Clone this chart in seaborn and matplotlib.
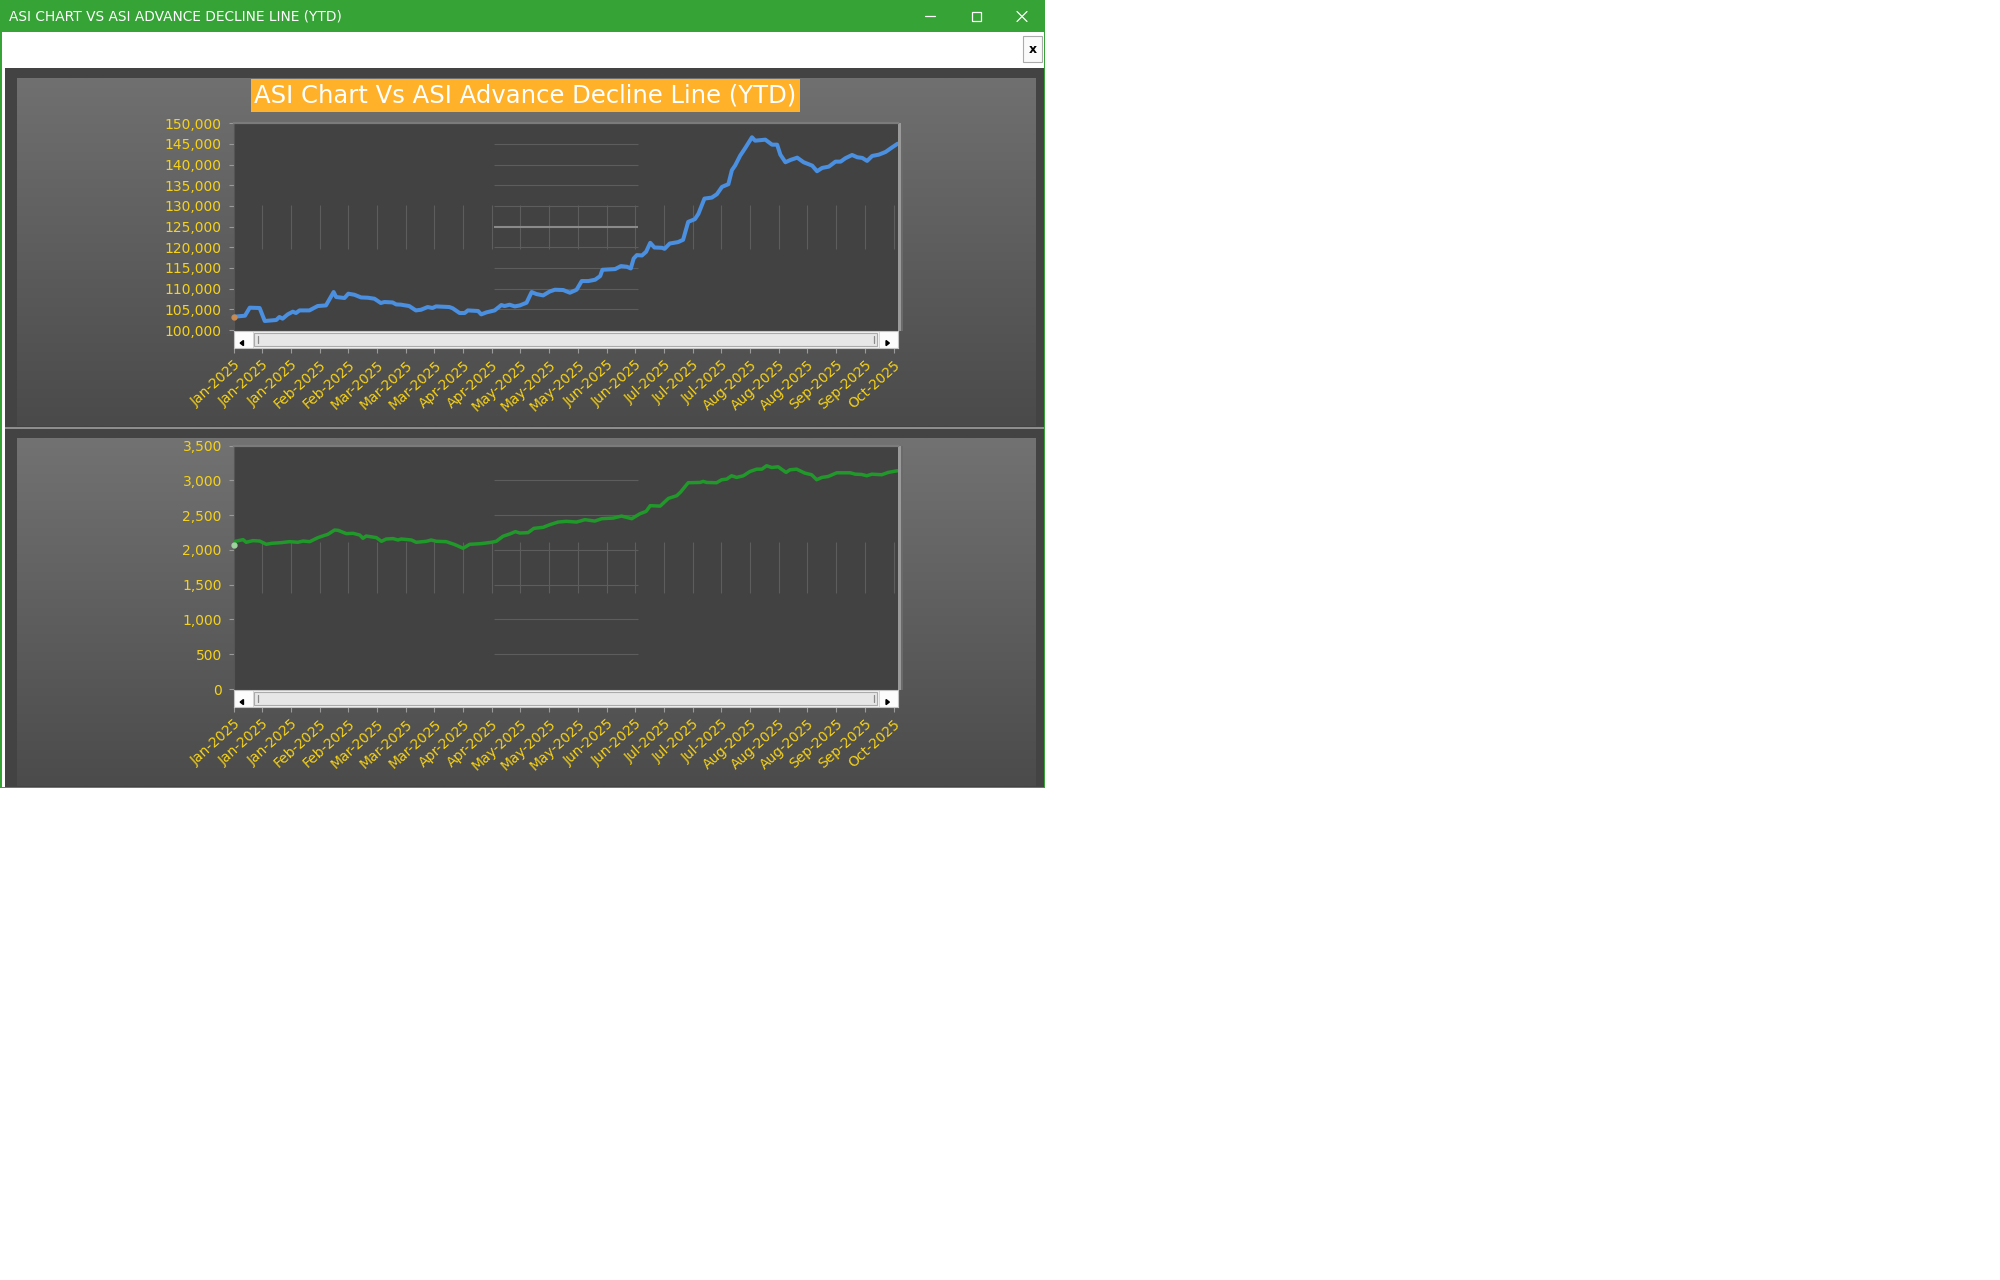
import numpy as np
import pandas as pd
import matplotlib
matplotlib.use("Agg")
import matplotlib.pyplot as plt
import seaborn as sns
from matplotlib.patches import Rectangle, Polygon
from matplotlib.colors import to_rgb

# ---------------- data ----------------
WINDOW_TITLE = "ASI CHART VS ASI ADVANCE DECLINE LINE (YTD)"
CHART_TITLE = "ASI Chart Vs ASI Advance Decline Line (YTD)"

X_TICK_LABELS = ["Jan-2025", "Jan-2025", "Jan-2025", "Feb-2025", "Feb-2025",
                 "Mar-2025", "Mar-2025", "Mar-2025", "Apr-2025", "Apr-2025",
                 "May-2025", "May-2025", "May-2025", "Jun-2025", "Jun-2025",
                 "Jul-2025", "Jul-2025", "Jul-2025", "Aug-2025", "Aug-2025",
                 "Aug-2025", "Sep-2025", "Sep-2025", "Oct-2025"]
SESSIONS_PER_TICK = 9
LAST_SESSION = 208.4

ASI_SESSION = [0, 3.6, 5.1, 8.2, 9.8, 13.4, 14.4, 15.4, 17.0, 18.6, 19.6, 20.7, 23.8,
               26.4, 29.0, 31.4, 32.2, 34.8, 36.0, 37.9, 40.0, 42.1, 44.2, 46.2, 47.3,
               49.9, 51.0, 52.5, 55.1, 57.2, 58.8, 60.9, 62.4, 63.5, 67.7, 68.8, 70.9,
               72.5, 73.5, 76.7, 77.7, 79.3, 81.9, 84.0, 85.0, 86.6, 88.2, 89.8, 91.9,
               93.5, 95.0, 97.1, 99.2, 100.8, 103.4, 105.5, 107.6, 109.2, 111.3, 113.4,
               115.0, 115.7, 119.7, 121.5, 123.4, 124.6, 125.5, 126.5, 128.1, 129.4,
               130.7, 132.0, 134.4, 135.2, 136.8, 139.4, 141.0, 142.6, 144.7, 145.8,
               147.7, 150.0, 151.6, 153.2, 155.2, 156.3, 157.3, 158.9, 160.5, 162.6,
               163.6, 166.8, 168.9, 170.5, 171.5, 173.1, 174.7, 176.8, 178.8, 181.5,
               183.0, 184.6, 186.7, 188.8, 190.4, 191.9, 194.0, 195.6, 197.2, 198.7,
               200.3, 202.4, 204.5, 206.6, 208.3]
ASI_VALUE = [103200, 103460, 105400, 105320, 102180, 102420, 103150, 102740, 103780,
             104430, 104110, 104740, 104740, 105800, 105950, 109180, 107980, 107740,
             108780, 108530, 107880, 107810, 107570, 106530, 106770, 106670, 106190,
             106130, 105800, 104740, 104900, 105560, 105320, 105710, 105560, 105230,
             104110, 104110, 104740, 104600, 103780, 104260, 104740, 106040, 105800,
             106120, 105710, 105950, 106600, 109180, 108700, 108370, 109330, 109740,
             109670, 109020, 109740, 111840, 111840, 112160, 113050, 114570, 114740,
             115460, 115300, 114890, 117300, 118120, 118030, 118920, 121090, 119960,
             119880, 119640, 120920, 121260, 121820, 126160, 126810, 128100, 131790,
             132030, 132850, 134620, 135270, 138650, 139760, 142170, 144030, 146620,
             145800, 146040, 144830, 144830, 142420, 140580, 141140, 141690, 140580,
             139760, 138410, 139200, 139520, 140730, 140730, 141550, 142340, 141790,
             141620, 140900, 142100, 142420, 143070, 144200, 145070]

ADL_SESSION = [0, 0.6, 3.0, 4.0, 6.1, 8.2, 10.3, 11.9, 15.0, 17.6, 20.2, 21.8, 23.9,
               26.5, 28.6, 29.6, 31.7, 32.8, 35.4, 37.5, 39.6, 40.6, 41.6, 44.8, 46.4,
               47.9, 50.0, 51.6, 52.6, 55.8, 57.3, 60.5, 62.0, 63.6, 66.7, 69.4, 72.0,
               74.1, 77.7, 80.9, 82.4, 84.5, 86.6, 88.4, 89.8, 92.4, 94.2, 97.1, 99.2,
               101.8, 104.4, 107.6, 110.2, 113.3, 115.5, 119.1, 121.7, 124.9, 127.5,
               129.4, 130.7, 133.8, 136.4, 139.0, 140.2, 142.6, 146.3, 147.3, 148.4,
               151.5, 153.1, 154.7, 156.2, 157.8, 159.9, 162.0, 164.1, 165.7, 167.2,
               168.8, 170.8, 173.3, 174.5, 176.6, 179.2, 181.3, 182.9, 184.5, 186.5,
               189.2, 193.4, 195.0, 197.0, 198.6, 200.2, 203.3, 205.3, 208.2]
ADL_VALUE = [2066, 2123, 2147, 2109, 2133, 2127, 2080, 2094, 2104, 2118, 2109, 2127,
             2118, 2176, 2209, 2223, 2285, 2281, 2233, 2238, 2213, 2166, 2199, 2176,
             2123, 2156, 2162, 2142, 2156, 2142, 2109, 2123, 2142, 2123, 2118, 2076,
             2023, 2080, 2090, 2109, 2123, 2195, 2228, 2262, 2242, 2248, 2309, 2324,
             2362, 2400, 2410, 2400, 2434, 2414, 2448, 2457, 2486, 2448, 2520, 2553,
             2635, 2629, 2740, 2778, 2830, 2965, 2969, 2984, 2969, 2965, 3008, 3017,
             3065, 3041, 3065, 3127, 3160, 3160, 3209, 3184, 3194, 3113, 3151, 3160,
             3103, 3080, 3008, 3041, 3055, 3108, 3108, 3088, 3084, 3065, 3088, 3080,
             3113, 3137]

ASI_YTICKS = [100000, 105000, 110000, 115000, 120000, 125000, 130000, 135000,
              140000, 145000, 150000]
ADL_YTICKS = [0, 500, 1000, 1500, 2000, 2500, 3000, 3500]
ASI_HIGHLIGHT = 125000

# ---------------- style ----------------
sns.set_theme(style="dark")
plt.rcParams['font.family'] = ['DejaVu Sans']

YELLOW = '#F6D21A'
BLUE = '#4A8FE0'
GREEN = '#21982A'
PLOT_BG = '#424242'
GRID = '#5d5d5d'

W, H = 2000, 1280
fig = plt.figure(figsize=(20, 12.8), dpi=100, facecolor='white')


def px_axes(x0, y0, x1, y1, z):
    return fig.add_axes([x0 / W, 1 - y1 / H, (x1 - x0) / W, (y1 - y0) / H], zorder=z)


bg = fig.add_axes([0, 0, 1, 1], zorder=0)
bg.set_axis_off()


def vgrad(x0, y0, x1, y1, c_top, c_bot):
    t = np.linspace(0, 1, 256)[:, None, None]
    a = np.array(to_rgb(c_top))
    b = np.array(to_rgb(c_bot))
    img = a * (1 - t) + b * t
    bg.imshow(img, extent=(x0, x1, y1, y0), aspect='auto', interpolation='bilinear', zorder=1)


def rect(x, y, w, h, color, z=1, **kw):
    bg.add_patch(Rectangle((x, y), w, h, facecolor=color, edgecolor=kw.pop('ec', 'none'),
                           zorder=z, **kw))


# window chrome
rect(0, 0, 1045, 32, '#35A335')
rect(0, 32, 1.5, 756, '#35A335')
rect(1043.5, 32, 1.5, 756, '#35A335')
rect(0, 786.5, 1045, 1.8, '#35A335')
rect(5, 68, 1038.5, 718.5, '#434343')
vgrad(17, 79, 1036, 426.5, '#707070', '#4a4a4a')
vgrad(17, 439, 1036, 786.5, '#727272', '#4b4b4b')
rect(5, 426.5, 1038.5, 2, '#8e8e8e', z=2)

# title bar controls
bg.plot([925, 935], [16, 16], color='white', lw=0.9, zorder=3)
bg.add_patch(Rectangle((972, 12), 9, 9, facecolor='none', edgecolor='white', lw=0.9, zorder=3))
bg.plot([1017, 1027], [11.5, 21.5], color='white', lw=0.9, zorder=3)
bg.plot([1017, 1027], [21.5, 11.5], color='white', lw=0.9, zorder=3)
t_win = bg.text(9, 16.5, WINDOW_TITLE, color='white', fontsize=9.2, va='center', ha='left',
                zorder=3)

# close "x" button
bg.add_patch(Rectangle((1023, 36), 19, 26, facecolor='#FAFAFA', edgecolor='#ABABAB', lw=0.8,
                       zorder=3))
bg.text(1032.5, 49.5, 'x', color='black', fontsize=9, fontweight='bold', ha='center',
        va='center', zorder=4)

# chart title
rect(251, 79, 549, 33, '#FFB12A', z=3)
t_title = bg.text(525.5, 96, CHART_TITLE, color='white', fontsize=14.5, ha='center',
                  va='center', zorder=4)

# plot shadows on the right
for (y0, y1) in [(123.3, 331), (445.5, 690)]:
    rect(898, y0, 2.5, y1 - y0, '#9a9a9a', z=2)
    rect(900.5, y0, 2.5, y1 - y0, '#6a6a6a', z=2)

bg.set_xlim(0, W)
bg.set_ylim(H, 0)

XTICKS = [k * SESSIONS_PER_TICK for k in range(len(X_TICK_LABELS))]


def style_plot(ax, yticks, ylim, highlight=None):
    ax.set_facecolor(PLOT_BG)
    ax.set_xlim(0, LAST_SESSION)
    ax.set_ylim(*ylim)
    ax.set_xticks([])
    ax.set_yticks(yticks)
    ax.set_yticklabels([f"{v:,}" for v in yticks])
    ax.tick_params(axis='y', left=True, colors='#9a9a9a', labelcolor=YELLOW, length=3.6,
                   width=0.8, pad=4.8, labelsize=10)
    ax.set_xlabel('')
    ax.set_ylabel('')
    ax.grid(False)
    for side in ['bottom', 'right']:
        ax.spines[side].set_visible(False)
    ax.spines['top'].set_color('#7b7b7b')
    ax.spines['top'].set_linewidth(1.6)
    ax.spines['left'].set_color('#555555')
    ax.spines['left'].set_linewidth(0.8)
    # partial grid (as rendered in the reference)
    ax.vlines(XTICKS[1:], 0.397, 0.607, transform=ax.get_xaxis_transform(), colors=GRID,
              lw=0.8, zorder=1)
    hl = [v for v in yticks if v not in (yticks[0], yticks[-1], highlight)]
    ax.hlines(hl, 0.392, 0.609, transform=ax.get_yaxis_transform(), colors=GRID, lw=0.8,
              zorder=1)
    if highlight is not None:
        ax.hlines([highlight], 0.392, 0.609, transform=ax.get_yaxis_transform(),
                  colors='#8a8a8a', lw=1.5, zorder=1)


def scrollbar(sc):
    sc.set_facecolor('#F4F4F4')
    sc.set_xlim(0, LAST_SESSION)
    sc.set_ylim(0, 1)
    sc.grid(False)
    for s in sc.spines.values():
        s.set_color('#C4C4C4')
        s.set_linewidth(0.8)
    T = sc.transAxes
    sc.add_patch(Rectangle((0, 0), 0.0286, 1, transform=T, facecolor='#FCFCFC',
                           edgecolor='#D2D2D2', lw=0.6))
    sc.add_patch(Rectangle((0.9714, 0), 0.0286, 1, transform=T, facecolor='#FCFCFC',
                           edgecolor='#D2D2D2', lw=0.6))
    sc.add_patch(Rectangle((0.031, 0.14), 0.938, 0.72, transform=T, facecolor='#E7E7E7',
                           edgecolor='#ABABAB', lw=0.8))
    sc.plot([0.0365, 0.0365], [0.3, 0.7], transform=T, color='#8a8a8a', lw=0.9)
    sc.plot([0.9635, 0.9635], [0.3, 0.7], transform=T, color='#8a8a8a', lw=0.9)
    sc.add_patch(Polygon([[0.0150, 0.14], [0.0150, 0.44], [0.0100, 0.29]], transform=T,
                         color='black'))
    sc.add_patch(Polygon([[0.9820, 0.14], [0.9820, 0.44], [0.9870, 0.29]], transform=T,
                         color='black'))
    sc.set_yticks([])
    sc.set_xticks(XTICKS)
    sc.set_xticklabels(X_TICK_LABELS)
    sc.tick_params(axis='x', bottom=True, colors='#9a9a9a', labelcolor=YELLOW, length=3.6,
                   width=0.8, pad=3.5, labelsize=10)
    plt.setp(sc.get_xticklabels(), rotation=42, ha='right', rotation_mode='anchor')


# ---------------- top chart ----------------
ax1 = px_axes(233.5, 123.3, 898, 331, 2)
asi_df = pd.DataFrame({'session': ASI_SESSION, 'value': ASI_VALUE})
style_plot(ax1, ASI_YTICKS, (99760, 150000), highlight=ASI_HIGHLIGHT)
sns.lineplot(data=asi_df, x='session', y='value', ax=ax1, color=BLUE, linewidth=2.9,
             sort=False, zorder=3)
ax1.plot(asi_df['session'].iloc[:1], asi_df['value'].iloc[:1], 'o', color='#C88A50',
         markersize=3.5, zorder=4, clip_on=False)
ax1.set_xlabel('')
ax1.set_ylabel('')
sc1 = px_axes(233.5, 331, 898, 348, 3)
scrollbar(sc1)

# ---------------- bottom chart ----------------
ax2 = px_axes(233.5, 445.5, 898, 690, 2)
adl_df = pd.DataFrame({'session': ADL_SESSION, 'value': ADL_VALUE})
style_plot(ax2, ADL_YTICKS, (-14, 3500))
sns.lineplot(data=adl_df, x='session', y='value', ax=ax2, color=GREEN, linewidth=2.5,
             sort=False, zorder=3)
ax2.plot(adl_df['session'].iloc[:1], adl_df['value'].iloc[:1], 'o', color='#9fd49f',
         markersize=3.5, zorder=4, clip_on=False)
ax2.set_xlabel('')
ax2.set_ylabel('')
sc2 = px_axes(233.5, 690, 898, 707, 3)
scrollbar(sc2)

# fit title widths to the reference
fig.canvas.draw()
r = fig.canvas.get_renderer()
for t, target in [(t_title, 543), (t_win, 333)]:
    w = t.get_window_extent(renderer=r).width
    t.set_fontsize(t.get_fontsize() * target / w)

fig.savefig('out.png', dpi=100, facecolor='white')
